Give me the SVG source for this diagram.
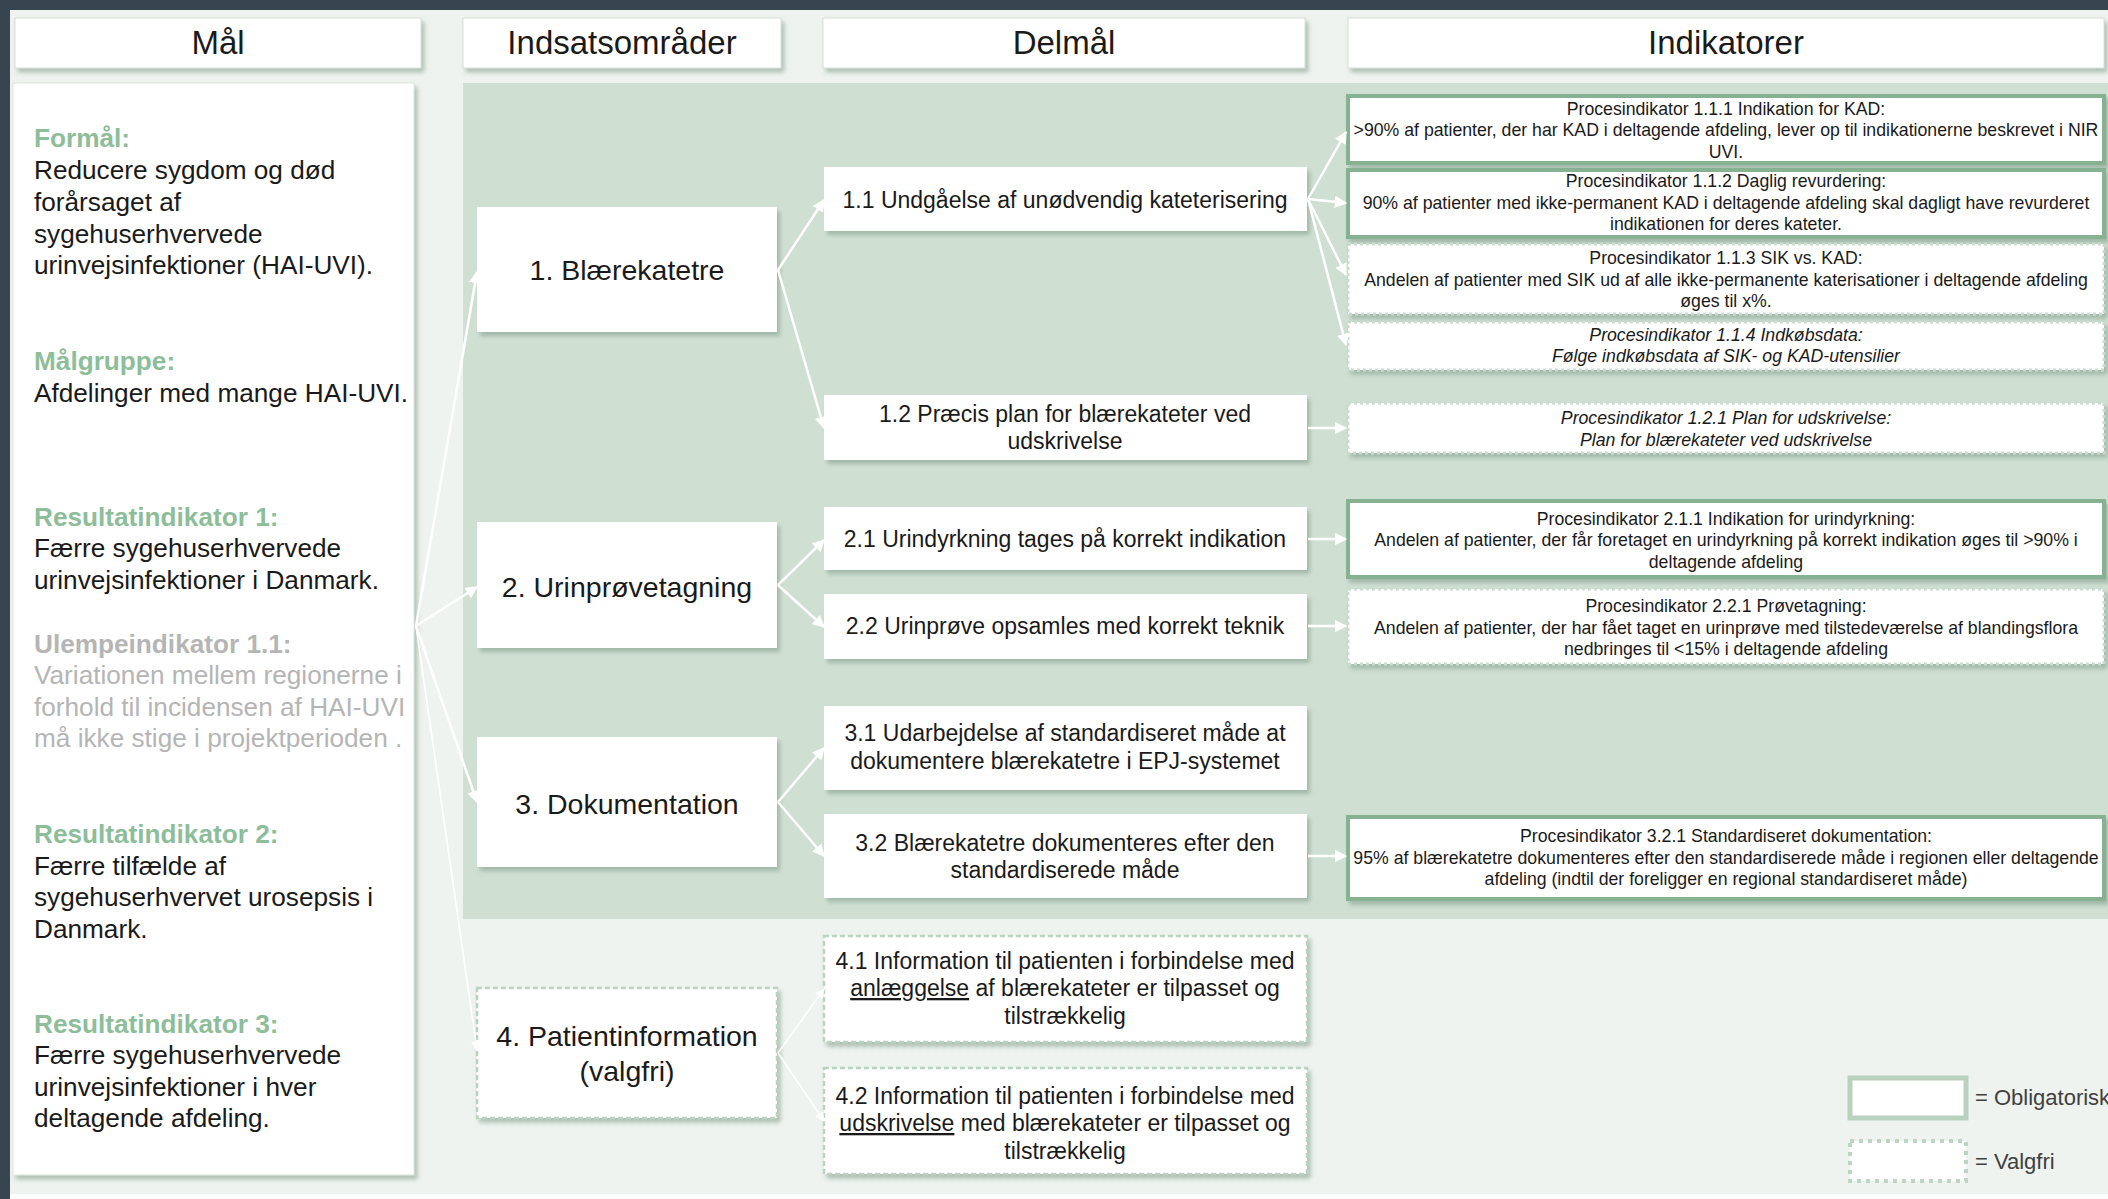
<svg xmlns="http://www.w3.org/2000/svg" width="2108" height="1199" viewBox="0 0 2108 1199">
<defs>
<style>
text{font-family:"Liberation Sans",Arial,sans-serif;fill:#1a1a1a}
.hdr{font-size:33px;text-anchor:middle}
.area{font-size:28.5px;text-anchor:middle}
.dm{font-size:23px;text-anchor:middle}
.ind{font-size:17.7px;text-anchor:middle}
.it{font-style:italic}
.mal{font-size:26.2px}
.gh{fill:#8dbd99;font-weight:bold}
.gr{fill:#b5b5b5}
.grb{fill:#b5b5b5;font-weight:bold}
.box{fill:#fff;filter:url(#sh)}
.hbox{fill:#fff;stroke:#d6dfd8;stroke-width:1;filter:url(#sh)}
.oblig{fill:#fff;stroke:#86b291;stroke-width:4;filter:url(#sh)}
.valg{fill:#fff;stroke:#c9dccd;stroke-width:3;stroke-dasharray:3 3;filter:url(#sh)}
.dash{fill:#fff;stroke:#b9d3bf;stroke-width:2.5;stroke-dasharray:5 3;filter:url(#sh)}
.con{stroke:#fff;stroke-width:2.5;fill:none;marker-end:url(#ah)}
.thin{stroke:#fff;stroke-width:1.6;fill:none;marker-end:url(#ah2)}
.leg{font-size:22px;fill:#404040}
</style>
<filter id="sh" x="-5%" y="-10%" width="112%" height="130%">
<feDropShadow dx="3" dy="4" stdDeviation="2" flood-color="#7d9985" flood-opacity="0.55"/>
</filter>
<marker id="ah" viewBox="0 0 10 10" refX="9" refY="5" markerWidth="5" markerHeight="5" orient="auto" markerUnits="strokeWidth">
<path d="M0,0 L10,5 L0,10 Z" fill="#fff"/>
</marker>
<marker id="ah2" viewBox="0 0 10 10" refX="9" refY="5" markerWidth="6" markerHeight="6" orient="auto" markerUnits="strokeWidth">
<path d="M0,0 L10,5 L0,10 Z" fill="#fff"/>
</marker>
</defs>

<!-- background -->
<rect x="0" y="0" width="2108" height="1199" fill="#36454f"/>
<rect x="10" y="10" width="2098" height="1184" fill="#eef3ef"/>
<rect x="10" y="1194" width="2098" height="5" fill="#fbfcfb"/>
<rect x="463" y="83" width="1645" height="836" fill="#cfe0d3"/>

<!-- headers -->
<g id="hdr-mal"><rect class="hbox" x="15" y="18" width="406" height="50"/><text class="hdr" x="218" y="54">Mål</text></g>
<g id="hdr-indsats"><rect class="hbox" x="463" y="18" width="318" height="50"/><text class="hdr" x="622" y="54">Indsatsområder</text></g>
<g id="hdr-delmal"><rect class="hbox" x="823" y="18" width="482" height="50"/><text class="hdr" x="1064" y="54">Delmål</text></g>
<g id="hdr-indikatorer"><rect class="hbox" x="1348" y="18" width="756" height="50"/><text class="hdr" x="1726" y="54">Indikatorer</text></g>

<!-- Mål box -->
<g id="mal">
<rect class="box" x="13" y="83" width="401" height="1092" stroke="#dbe6de" stroke-width="1"/>
<text class="mal" x="34"><tspan class="gh" x="34" y="147">Formål:</tspan><tspan x="34" y="179">Reducere sygdom og død</tspan><tspan x="34" y="211">forårsaget af</tspan><tspan x="34" y="243">sygehuserhvervede</tspan><tspan x="34" y="274">urinvejsinfektioner (HAI-UVI).</tspan></text>
<text class="mal" x="34"><tspan class="gh" x="34" y="370">Målgruppe:</tspan><tspan x="34" y="402">Afdelinger med mange HAI-UVI.</tspan></text>
<text class="mal" x="34"><tspan class="gh" x="34" y="526">Resultatindikator 1:</tspan><tspan x="34" y="557">Færre sygehuserhvervede</tspan><tspan x="34" y="589">urinvejsinfektioner i Danmark.</tspan></text>
<text class="mal" x="34"><tspan class="grb" x="34" y="653">Ulempeindikator 1.1:</tspan><tspan class="gr" x="34" y="684">Variationen mellem regionerne i</tspan><tspan class="gr" x="34" y="716">forhold til incidensen af HAI-UVI</tspan><tspan class="gr" x="34" y="747">må ikke stige i projektperioden .</tspan></text>
<text class="mal" x="34"><tspan class="gh" x="34" y="843">Resultatindikator 2:</tspan><tspan x="34" y="875">Færre tilfælde af</tspan><tspan x="34" y="906">sygehuserhvervet urosepsis i</tspan><tspan x="34" y="938">Danmark.</tspan></text>
<text class="mal" x="34"><tspan class="gh" x="34" y="1033">Resultatindikator 3:</tspan><tspan x="34" y="1064">Færre sygehuserhvervede</tspan><tspan x="34" y="1096">urinvejsinfektioner i hver</tspan><tspan x="34" y="1127">deltagende afdeling.</tspan></text>
</g>

<!-- Indsatsområder -->
<g id="area1"><rect class="box" x="477" y="207" width="300" height="125"/><text class="area" x="627" y="280">1. Blærekatetre</text></g>
<g id="area2"><rect class="box" x="477" y="522" width="300" height="126"/><text class="area" x="627" y="597">2. Urinprøvetagning</text></g>
<g id="area3"><rect class="box" x="477" y="737" width="300" height="130"/><text class="area" x="627" y="814">3. Dokumentation</text></g>
<g id="area4"><rect class="dash" x="477" y="988" width="300" height="130"/><text class="area" x="627" y="1046">4. Patientinformation</text><text class="area" x="627" y="1081">(valgfri)</text></g>

<!-- Delmål -->
<g id="d11"><rect class="box" x="824" y="167" width="483" height="64"/><text class="dm" x="1065" y="208">1.1 Undgåelse af unødvendig kateterisering</text></g>
<g id="d12"><rect class="box" x="824" y="395" width="483" height="65"/><text class="dm" x="1065" y="422">1.2 Præcis plan for blærekateter ved</text><text class="dm" x="1065" y="449">udskrivelse</text></g>
<g id="d21"><rect class="box" x="824" y="507" width="483" height="63"/><text class="dm" x="1065" y="547">2.1 Urindyrkning tages på korrekt indikation</text></g>
<g id="d22"><rect class="box" x="824" y="594" width="483" height="65"/><text class="dm" x="1065" y="634">2.2 Urinprøve opsamles med korrekt teknik</text></g>
<g id="d31"><rect class="box" x="824" y="706" width="483" height="84"/><text class="dm" x="1065" y="741">3.1 Udarbejdelse af standardiseret måde at</text><text class="dm" x="1065" y="769">dokumentere blærekatetre i EPJ-systemet</text></g>
<g id="d32"><rect class="box" x="824" y="814" width="483" height="84"/><text class="dm" x="1065" y="851">3.2 Blærekatetre dokumenteres efter den</text><text class="dm" x="1065" y="878">standardiserede måde</text></g>
<g id="d41"><rect class="dash" x="824" y="936" width="483" height="106"/><text class="dm" x="1065" y="969">4.1 Information til patienten i forbindelse med</text><text class="dm" x="1065" y="996"><tspan text-decoration="underline">anlæggelse</tspan> af blærekateter er tilpasset og</text><text class="dm" x="1065" y="1024">tilstrækkelig</text></g>
<g id="d42"><rect class="dash" x="824" y="1068" width="483" height="106"/><text class="dm" x="1065" y="1104">4.2 Information til patienten i forbindelse med</text><text class="dm" x="1065" y="1131"><tspan text-decoration="underline">udskrivelse</tspan> med blærekateter er tilpasset og</text><text class="dm" x="1065" y="1159">tilstrækkelig</text></g>

<!-- Indikatorer -->
<g id="i111"><rect class="oblig" x="1348" y="96" width="756" height="67"/>
<text class="ind" x="1726" y="115">Procesindikator 1.1.1 Indikation for KAD:</text>
<text class="ind" x="1726" y="136">&gt;90% af patienter, der har KAD i deltagende afdeling, lever op til indikationerne beskrevet i NIR</text>
<text class="ind" x="1726" y="158">UVI.</text></g>
<g id="i112"><rect class="oblig" x="1348" y="170" width="756" height="67"/>
<text class="ind" x="1726" y="187">Procesindikator 1.1.2 Daglig revurdering:</text>
<text class="ind" x="1726" y="209">90% af patienter med ikke-permanent KAD i deltagende afdeling skal dagligt have revurderet</text>
<text class="ind" x="1726" y="230">indikationen for deres kateter.</text></g>
<g id="i113"><rect class="valg" x="1348" y="244" width="756" height="70"/>
<text class="ind" x="1726" y="264">Procesindikator 1.1.3 SIK vs. KAD:</text>
<text class="ind" x="1726" y="286">Andelen af patienter med SIK ud af alle ikke-permanente katerisationer i deltagende afdeling</text>
<text class="ind" x="1726" y="307">øges til x%.</text></g>
<g id="i114"><rect class="valg" x="1348" y="322" width="756" height="48"/>
<text class="ind it" x="1726" y="341">Procesindikator 1.1.4 Indkøbsdata:</text>
<text class="ind it" x="1726" y="362">Følge indkøbsdata af SIK- og KAD-utensilier</text></g>
<g id="i121"><rect class="valg" x="1348" y="403" width="756" height="50"/>
<text class="ind it" x="1726" y="424">Procesindikator 1.2.1 Plan for udskrivelse:</text>
<text class="ind it" x="1726" y="446">Plan for blærekateter ved udskrivelse</text></g>
<g id="i211"><rect class="oblig" x="1348" y="501" width="756" height="76"/>
<text class="ind" x="1726" y="525">Procesindikator 2.1.1 Indikation for urindyrkning:</text>
<text class="ind" x="1726" y="546">Andelen af patienter, der får foretaget en urindyrkning på korrekt indikation øges til &gt;90% i</text>
<text class="ind" x="1726" y="568">deltagende afdeling</text></g>
<g id="i221"><rect class="valg" x="1348" y="589" width="756" height="75"/>
<text class="ind" x="1726" y="612">Procesindikator 2.2.1 Prøvetagning:</text>
<text class="ind" x="1726" y="634">Andelen af patienter, der har fået taget en urinprøve med tilstedeværelse af blandingsflora</text>
<text class="ind" x="1726" y="655">nedbringes til &lt;15% i deltagende afdeling</text></g>
<g id="i321"><rect class="oblig" x="1348" y="817" width="756" height="82"/>
<text class="ind" x="1726" y="842">Procesindikator 3.2.1 Standardiseret dokumentation:</text>
<text class="ind" x="1726" y="864">95% af blærekatetre dokumenteres efter den standardiserede måde i regionen eller deltagende</text>
<text class="ind" x="1726" y="885">afdeling (indtil der foreligger en regional standardiseret måde)</text></g>

<!-- legend -->
<g id="legend">
<rect x="1850" y="1078" width="116" height="40" fill="#fff" stroke="#b8d2be" stroke-width="5"/>
<text class="leg" x="1975" y="1105">= Obligatorisk</text>
<rect x="1850" y="1141" width="116" height="40" fill="#fff" stroke="#bdd5c3" stroke-width="4" stroke-dasharray="4 5"/>
<text class="leg" x="1975" y="1169">= Valgfri</text>
</g>

<!-- connectors -->
<g id="connectors">
<path class="con" d="M416,626 L477,272"/>
<path class="con" d="M416,626 L477,587"/>
<path class="con" d="M416,626 L477,802"/>
<path class="thin" d="M416,626 L477,1050"/>
<path class="con" d="M778,270 L824,200"/>
<path class="con" d="M778,270 L824,428"/>
<path class="con" d="M778,585 L824,540"/>
<path class="con" d="M778,585 L824,627"/>
<path class="con" d="M778,802 L824,748"/>
<path class="con" d="M778,802 L824,856"/>
<path class="thin" d="M778,1053 L824,989"/>
<path class="thin" d="M778,1053 L824,1121"/>
<path class="con" d="M1308,199 L1346,132"/>
<path class="con" d="M1308,199 L1346,203"/>
<path class="con" d="M1308,199 L1346,275"/>
<path class="con" d="M1308,199 L1346,345"/>
<path class="con" d="M1308,428 L1346,428"/>
<path class="con" d="M1308,539 L1346,539"/>
<path class="con" d="M1308,626 L1346,626"/>
<path class="con" d="M1308,856 L1346,856"/>
</g>
</svg>
